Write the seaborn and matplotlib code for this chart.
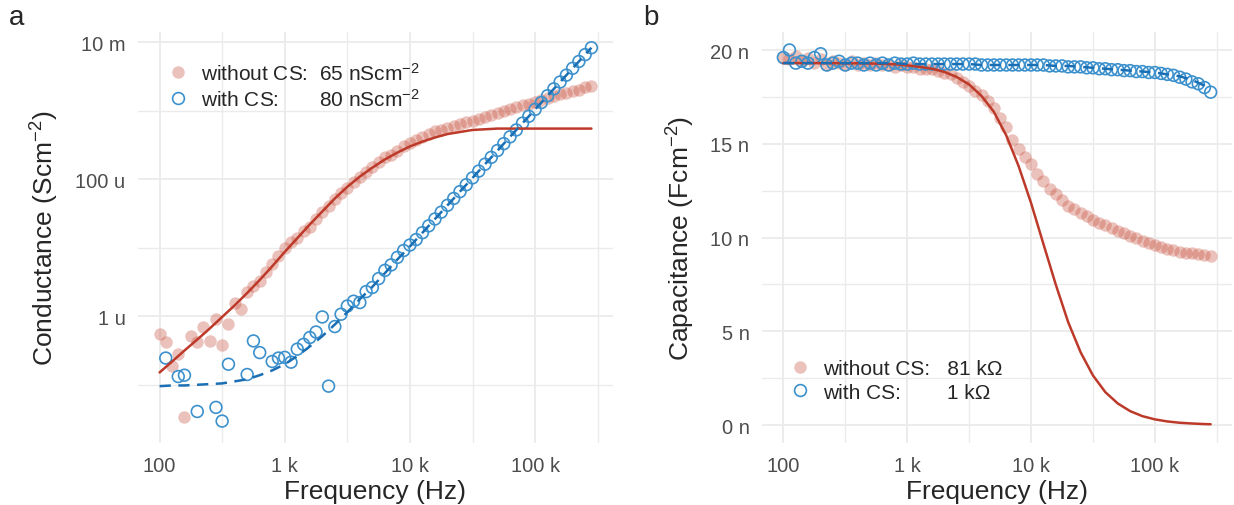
import matplotlib
matplotlib.use("Agg")
import matplotlib.pyplot as plt
import numpy as np
import seaborn as sns
from matplotlib.lines import Line2D
from matplotlib.ticker import FixedLocator, FixedFormatter, NullFormatter

# measurement frequencies (Hz), 20 points per decade
freq_hz = [100, 112, 126, 141, 158, 178, 200, 224, 251, 282,
           316, 355, 398, 447, 501, 562, 631, 708, 794, 891,
           1000, 1122, 1259, 1413, 1585, 1778, 1995, 2239, 2512, 2818,
           3162, 3548, 3981, 4467, 5012, 5623, 6310, 7079, 7943, 8913,
           10000, 11220, 12589, 14125, 15849, 17783, 19953, 22387, 25119, 28184,
           31623, 35481, 39811, 44668, 50119, 56234, 63096, 70795, 79433, 89125,
           100000, 112202, 125893, 141254, 158489, 177828, 199526, 223872, 251189, 281838]

# frequencies at which the fitted curves were read
fit_freq_hz = [100, 126, 158, 200, 251, 316, 398, 501, 631, 794,
               1000, 1259, 1585, 1995, 2512, 3162, 3981, 5012, 6310, 7943,
               10000, 12589, 15849, 19953, 25119, 31623, 39811, 50119, 63096, 79433,
               100000, 125893, 158489, 199526, 251189, 281838]

# panel a: conductance, read as log10(S cm^-2); nan = not shown on the log axis
g_without_log10 = [-6.26, -6.38, -6.72, -6.55, -7.47, -6.29, -6.38, -6.16, -6.36, -6.04,
                   -6.42, -6.12, -5.80, -5.90, -5.65, -5.56, -5.49, -5.35, -5.24, -5.12,
                   -5.01, -4.92, -4.85, -4.76, -4.69, -4.58, -4.48, -4.39, -4.29, -4.20,
                   -4.13, -4.04, -3.97, -3.90, -3.82, -3.75, -3.68, -3.64, -3.58, -3.52,
                   -3.47, -3.42, -3.38, -3.34, -3.30, -3.28, -3.25, -3.22, -3.20, -3.17,
                   -3.15, -3.12, -3.09, -3.06, -3.03, -3.01, -2.98, -2.95, -2.92, -2.90,
                   -2.87, -2.84, -2.81, -2.79, -2.76, -2.74, -2.71, -2.69, -2.66, -2.64]
g_with_log10 = [np.nan, -6.61, np.nan, -6.88, -6.86, np.nan, -7.39, np.nan, np.nan, -7.33,
                -7.53, -6.70, np.nan, np.nan, -6.85, -6.36, -6.53, np.nan, -6.66, -6.61,
                -6.60, -6.67, -6.48, -6.41, -6.31, -6.23, -6.01, -7.02, -6.15, -5.97,
                -5.85, -5.78, -5.80, -5.64, -5.58, -5.45, -5.33, -5.25, -5.14, -5.04,
                -4.96, -4.88, -4.78, -4.68, -4.58, -4.48, -4.38, -4.28, -4.18, -4.08,
                -3.98, -3.88, -3.78, -3.68, -3.58, -3.48, -3.38, -3.28, -3.18, -3.08,
                -2.98, -2.88, -2.78, -2.68, -2.58, -2.48, -2.38, -2.28, -2.18, -2.08]
g_fit_without_log10 = [-6.82, -6.66, -6.50, -6.34, -6.18, -6.01, -5.84, -5.66, -5.47, -5.27,
                       -5.06, -4.86, -4.66, -4.47, -4.28, -4.11, -3.96, -3.83, -3.71, -3.61,
                       -3.52, -3.45, -3.39, -3.34, -3.31, -3.28, -3.27, -3.26, -3.26, -3.26,
                       -3.26, -3.26, -3.26, -3.26, -3.26, -3.26]
g_fit_with_log10 = [-7.02, -7.01, -7.01, -7.00, -6.99, -6.98, -6.95, -6.92, -6.86, -6.79,
                    -6.70, -6.58, -6.44, -6.29, -6.12, -5.94, -5.75, -5.57, -5.37, -5.17,
                    -4.98, -4.78, -4.58, -4.38, -4.18, -3.98, -3.78, -3.58, -3.38, -3.18,
                    -2.98, -2.78, -2.58, -2.38, -2.18, -2.08]

# panel b: capacitance (nF cm^-2)
c_without = [19.6, 19.5, 19.7, 19.4, 19.6, 19.3, 19.5, 19.2, 19.4, 19.3,
             19.2, 19.4, 19.2, 19.3, 19.2, 19.3, 19.2, 19.2, 19.1, 19.2,
             19.1, 19.1, 19.0, 19.0, 19.0, 18.9, 18.8, 18.7, 18.5, 18.3,
             18.1, 17.8, 17.6, 17.3, 16.9, 16.4, 15.9, 15.2, 14.7, 14.3,
             13.9, 13.4, 13.0, 12.6, 12.3, 12.0, 11.7, 11.5, 11.3, 11.15,
             10.95, 10.8, 10.65, 10.5, 10.35, 10.25, 10.1, 9.95, 9.8, 9.7,
             9.6, 9.5, 9.4, 9.35, 9.25, 9.2, 9.15, 9.1, 9.05, 9.0]
c_with = [19.6, 20.0, 19.3, 19.4, 19.3, 19.6, 19.8, 19.2, 19.3, 19.4,
          19.2, 19.3, 19.3, 19.2, 19.3, 19.2, 19.3, 19.2, 19.3, 19.25,
          19.25, 19.3, 19.25, 19.25, 19.25, 19.25, 19.25, 19.25, 19.25, 19.25,
          19.25, 19.25, 19.2, 19.2, 19.2, 19.2, 19.2, 19.2, 19.2, 19.2,
          19.2, 19.2, 19.2, 19.15, 19.15, 19.15, 19.1, 19.1, 19.1, 19.05,
          19.05, 19.0, 19.0, 18.95, 18.95, 18.9, 18.9, 18.85, 18.85, 18.8,
          18.8, 18.75, 18.7, 18.65, 18.55, 18.45, 18.3, 18.2, 18.0, 17.75]
c_fit_without = [19.3, 19.3, 19.3, 19.3, 19.3, 19.29, 19.29, 19.28, 19.26, 19.24,
                 19.18, 19.1, 19.0, 18.83, 18.56, 18.16, 17.55, 16.7, 15.44, 13.8,
                 11.84, 9.65, 7.48, 5.48, 3.88, 2.64, 1.75, 1.15, 0.74, 0.47,
                 0.30, 0.19, 0.12, 0.08, 0.05, 0.04]
c_fit_with = [19.3, 19.3, 19.3, 19.3, 19.3, 19.3, 19.3, 19.3, 19.3, 19.3,
              19.25, 19.25, 19.25, 19.25, 19.25, 19.25, 19.2, 19.2, 19.2, 19.2,
              19.2, 19.2, 19.15, 19.15, 19.1, 19.05, 19.0, 18.95, 18.9, 18.85,
              18.8, 18.7, 18.6, 18.4, 18.1, 17.9]

freq_ticks = [100, 1000, 10000, 100000]
freq_labels = ["100", "1 k", "10 k", "100 k"]
cond_ticks = [1e-6, 1e-4, 1e-2]
cond_labels = ["1 u", "100 u", "10 m"]
cap_ticks = [0, 5, 10, 15, 20]
cap_labels = ["0 n", "5 n", "10 n", "15 n", "20 n"]

legend_a = ["without CS:  65 nScm$^{-2}$", "with CS:       80 nScm$^{-2}$"]
legend_b = ["without CS:   81 k\u03a9", "with CS:        1 k\u03a9"]

RED_PT = "#C8503C"
RED_LINE = "#BD3A2A"
BLUE_PT = "#3C91CD"
BLUE_LINE = "#1A6FB4"
GRID = "#EBEBEB"


def style_axis(ax, ymajor, ylabels, yminor, ylabel):
    for s in ax.spines.values():
        s.set_visible(False)
    ax.set_xscale("log")
    ax.set_xlim(10 ** 1.8275, 10 ** 5.6225)
    ax.xaxis.set_major_locator(FixedLocator(freq_ticks))
    ax.xaxis.set_major_formatter(FixedFormatter(freq_labels))
    ax.xaxis.set_minor_locator(FixedLocator([10 ** 2.5, 10 ** 3.5, 10 ** 4.5, 10 ** 5.5]))
    ax.xaxis.set_minor_formatter(NullFormatter())
    ax.yaxis.set_major_locator(FixedLocator(ymajor))
    ax.yaxis.set_major_formatter(FixedFormatter(ylabels))
    ax.yaxis.set_minor_locator(FixedLocator(yminor))
    ax.yaxis.set_minor_formatter(NullFormatter())
    ax.grid(True, which="major", color=GRID, linewidth=1.3)
    ax.grid(True, which="minor", color=GRID, linewidth=1.0)
    ax.set_axisbelow(True)
    ax.tick_params(which="both", length=0, labelsize=14.5, labelcolor="#4D4D4D")
    ax.tick_params(axis="y", pad=9)
    ax.tick_params(axis="x", pad=9)
    ax.set_xlabel("Frequency (Hz)", fontsize=19, labelpad=3)
    ax.set_ylabel(ylabel, fontsize=19, labelpad=10)
    ax.set_facecolor("white")


def draw_panel(ax, y_without, y_with, fit_without, fit_with):
    sns.scatterplot(x=freq_hz, y=y_without, ax=ax, color=RED_PT, alpha=0.35,
                    s=80, linewidth=0, legend=False, zorder=2)
    sns.scatterplot(x=freq_hz, y=y_with, ax=ax, facecolor="none", edgecolor=BLUE_PT,
                    s=72, linewidth=1.2, legend=False, zorder=3)
    sns.lineplot(x=fit_freq_hz, y=fit_without, ax=ax, color=RED_LINE, linewidth=1.8, zorder=4)
    sns.lineplot(x=fit_freq_hz, y=fit_with, ax=ax, color=BLUE_LINE, linewidth=1.8,
                 dashes=False, zorder=5).lines[-1].set_dashes((4.5, 3))


def add_legend(ax, labels, anchor):
    handles = [
        Line2D([], [], marker="o", linestyle="none", markersize=9, markerfacecolor=RED_PT,
               markeredgewidth=0, alpha=0.35),
        Line2D([], [], marker="o", linestyle="none", markersize=8.5, markerfacecolor="none",
               markeredgecolor=BLUE_PT, markeredgewidth=1.2),
    ]
    ax.legend(handles, labels, loc="center left", bbox_to_anchor=anchor, frameon=False,
              fontsize=15, handlelength=1.0, handletextpad=0.6, labelspacing=0.2,
              borderpad=0, borderaxespad=0)


sns.set_theme(style="white")
plt.rcParams["font.family"] = ["Liberation Sans", "DejaVu Sans"]
plt.rcParams["mathtext.fontset"] = "custom"
plt.rcParams["mathtext.rm"] = "Liberation Sans"
plt.rcParams["mathtext.it"] = "Liberation Sans:italic"
plt.rcParams["mathtext.bf"] = "Liberation Sans:bold"

W, H = 1234, 506
fig = plt.figure(figsize=(W / 100, H / 100), dpi=100)
fig.patch.set_facecolor("white")

ax_a = fig.add_axes([138 / W, 1 - 444 / H, 475 / W, 411 / H])
ax_b = fig.add_axes([762 / W, 1 - 444 / H, 470 / W, 411 / H])

# panel a
ax_a.set_yscale("log")
draw_panel(ax_a, np.power(10.0, g_without_log10), np.power(10.0, g_with_log10),
           np.power(10.0, g_fit_without_log10), np.power(10.0, g_fit_with_log10))
style_axis(ax_a, cond_ticks, cond_labels, [1e-7, 1e-5, 1e-3], "Conductance (Scm$^{-2}$)")
ax_a.set_ylim(10 ** -7.85, 10 ** -1.85)
add_legend(ax_a, legend_a, (0.062, 0.870))

# panel b
draw_panel(ax_b, c_without, c_with, c_fit_without, c_fit_with)
style_axis(ax_b, cap_ticks, cap_labels, [2.5, 7.5, 12.5, 17.5], "Capacitance (Fcm$^{-2}$)")
ax_b.set_ylim(-0.96, 20.96)
add_legend(ax_b, legend_b, (0.059, 0.152))

fig.text(17 / W, 1 - 18 / H, "a", fontsize=20, ha="center", va="center")
fig.text(651 / W, 1 - 18 / H, "b", fontsize=20, ha="center", va="center")

fig.savefig("out.png", dpi=100, facecolor="white")
